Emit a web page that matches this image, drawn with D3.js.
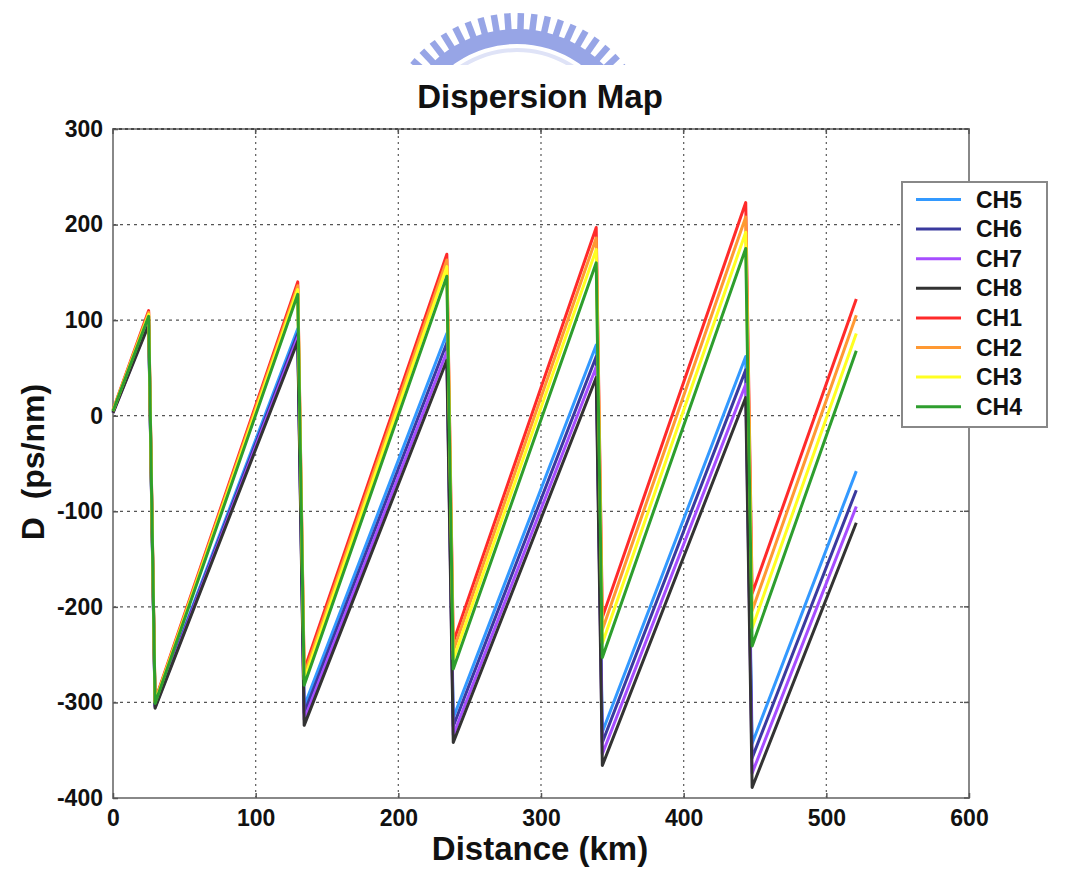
<!DOCTYPE html>
<html>
<head>
<meta charset="utf-8">
<script src="https://cdn.jsdelivr.net/npm/d3@7/dist/d3.min.js"></script>
<style>
  html, body { margin: 0; padding: 0; background: #fff; }
  svg { display: block; }
  text { font-family: "Liberation Sans", Arial, sans-serif; font-weight: bold; fill: #111; }
</style>
</head>
<body>
<svg id="chart" width="1069" height="884"></svg>
<script>
// ---- data ----
const distance = [0, 25, 29.5, 129.5, 134, 234, 238.5, 338.7, 343, 443.5, 448, 521];
const ch5 = [4, 101, -303, 91, -304, 86, -316, 74, -331, 62, -343, -58];
const ch6 = [4, 99, -304, 86, -311, 76, -325, 62, -342, 48, -358, -78];
const ch7 = [3, 97, -305, 82, -318, 67, -334, 51, -354, 33, -374, -95];
const ch8 = [3, 95, -306, 78, -324, 58, -342, 40, -366, 19, -389, -112];
const ch1 = [6, 110, -298, 140, -266, 169, -237, 197, -211, 223, -186, 122];
const ch2 = [6, 108, -299, 136, -271, 163, -246, 186, -224, 208, -204, 105];
const ch3 = [5, 106, -300, 132, -276, 156, -255, 174, -238, 192, -222, 86];
const ch4 = [5, 104, -301, 127, -282, 146, -265, 160, -253, 175, -241, 68];
const channelNames = ["CH5", "CH6", "CH7", "CH8", "CH1", "CH2", "CH3", "CH4"];
const channelValues = [ch5, ch6, ch7, ch8, ch1, ch2, ch3, ch4];
const channelColors = ["#3399ff", "#3a3a9e", "#a64dff", "#333333", "#ff2a2a", "#ff9933", "#ffff22", "#2e9e2e"];
const xTicks = [0, 100, 200, 300, 400, 500, 600];
const yTicks = [-400, -300, -200, -100, 0, 100, 200, 300];

const svg = d3.select("#chart");
const x = d3.scaleLinear().domain([0, 600]).range([113, 969]);
const y = d3.scaleLinear().domain([-400, 300]).range([798, 129]);

// ---- decorative watermark logo (arc of bars) ----
const defs = svg.append("defs");
defs.append("clipPath").attr("id", "logoclip").append("rect")
  .attr("x", 380).attr("y", 0).attr("width", 300).attr("height", 65);
const lg = svg.append("g").attr("clip-path", "url(#logoclip)");
const cx = 517, cy = 152;
const logoColor = "#97a5e6";
for (let deg = -60; deg <= 60.1; deg += 5.6) {
  const a = deg * Math.PI / 180;
  const r0 = 118, r1 = 139;
  lg.append("line")
    .attr("x1", cx + r0 * Math.sin(a)).attr("y1", cy - r0 * Math.cos(a))
    .attr("x2", cx + r1 * Math.sin(a)).attr("y2", cy - r1 * Math.cos(a))
    .attr("stroke", logoColor).attr("stroke-width", 6.5);
}
lg.append("path")
  .attr("d", d3.arc()({innerRadius: 108, outerRadius: 123, startAngle: -1.2, endAngle: 1.2}))
  .attr("transform", `translate(${cx},${cy})`)
  .attr("fill", logoColor);
lg.append("path")
  .attr("d", d3.arc()({innerRadius: 100, outerRadius: 104, startAngle: -1.0, endAngle: 1.0}))
  .attr("transform", `translate(${cx},${cy})`)
  .attr("fill", "#dfe3f7");

// ---- title ----
svg.append("text").attr("x", 540).attr("y", 108).attr("text-anchor", "middle")
  .attr("font-size", 33).text("Dispersion Map");

// ---- grid ----
const grid = svg.append("g");
grid.selectAll("line.h").data(yTicks).join("line")
  .attr("x1", x(0)).attr("x2", x(600))
  .attr("y1", d => y(d)).attr("y2", d => y(d))
  .attr("stroke", "#555").attr("stroke-width", 1.3).attr("stroke-dasharray", "3,4");
grid.selectAll("line.v").data(xTicks.slice(1, -1)).join("line")
  .attr("y1", y(-400)).attr("y2", y(300))
  .attr("x1", d => x(d)).attr("x2", d => x(d))
  .attr("stroke", "#666").attr("stroke-width", 1.3).attr("stroke-dasharray", "2,4");

// ---- axes box ----
svg.append("rect").attr("x", x(0)).attr("y", y(300))
  .attr("width", x(600) - x(0)).attr("height", y(-400) - y(300))
  .attr("fill", "none").attr("stroke", "#888").attr("stroke-width", 2);
svg.append("line").attr("x1", x(0)).attr("x2", x(600)).attr("y1", y(300)).attr("y2", y(300))
  .attr("stroke", "#333").attr("stroke-width", 1.5).attr("stroke-dasharray", "3,3");

// axes with inward ticks
const fmt = d => String(d);
const xAxis = d3.axisBottom(x).tickValues(xTicks).tickSize(-5).tickPadding(12).tickFormat(fmt);
const yAxis = d3.axisLeft(y).tickValues(yTicks).tickSize(-5).tickPadding(10).tickFormat(fmt);
const gx = svg.append("g").attr("transform", `translate(0,${y(-400)})`).call(xAxis);
const gy = svg.append("g").attr("transform", `translate(${x(0)},0)`).call(yAxis);
[gx, gy].forEach(g => {
  g.select(".domain").remove();
  g.selectAll(".tick line").attr("stroke", "#555").attr("stroke-width", 1.5);
  g.selectAll(".tick text").attr("font-size", 23).attr("font-weight", "bold")
    .attr("font-family", "'Liberation Sans', Arial, sans-serif").attr("fill", "#111");
});
gx.selectAll(".tick text").attr("dy", "0.71em");
// top/right inward ticks
svg.append("g").selectAll("line").data(xTicks).join("line")
  .attr("x1", d => x(d)).attr("x2", d => x(d)).attr("y1", y(300)).attr("y2", y(300) + 5)
  .attr("stroke", "#555").attr("stroke-width", 1.5);
svg.append("g").selectAll("line").data(yTicks).join("line")
  .attr("x1", x(600)).attr("x2", x(600) - 5).attr("y1", d => y(d)).attr("y2", d => y(d))
  .attr("stroke", "#555").attr("stroke-width", 1.5);

// ---- axis titles ----
svg.append("text").attr("x", 540).attr("y", 860).attr("text-anchor", "middle")
  .attr("font-size", 33).text("Distance (km)");
svg.append("text").attr("transform", `translate(44,462) rotate(-90)`).attr("text-anchor", "middle")
  .attr("font-size", 32).attr("xml:space", "preserve").text("D  (ps/nm)");

// ---- lines ----
const line = d3.line().x((d, i) => x(distance[i])).y(d => y(d));
svg.append("g").selectAll("path").data(channelValues).join("path")
  .attr("d", d => line(d))
  .attr("fill", "none")
  .attr("stroke", (d, i) => channelColors[i])
  .attr("stroke-width", 3)
  .attr("stroke-linejoin", "round");

// ---- legend ----
const lgX = 902, lgY = 182, lgW = 145, lgH = 245;
const legend = svg.append("g");
legend.append("rect").attr("x", lgX).attr("y", lgY).attr("width", lgW).attr("height", lgH)
  .attr("fill", "#fff").attr("stroke", "#888").attr("stroke-width", 2);
const items = legend.selectAll("g.item").data(channelNames).join("g")
  .attr("transform", (d, i) => `translate(0,${199.5 + i * 29.6})`);
items.append("line").attr("x1", 916).attr("x2", 961).attr("y1", 0).attr("y2", 0)
  .attr("stroke", (d, i) => channelColors[i]).attr("stroke-width", 3);
items.append("text").attr("x", 976).attr("y", 8).attr("font-size", 23).text(d => d);
</script>
</body>
</html>
